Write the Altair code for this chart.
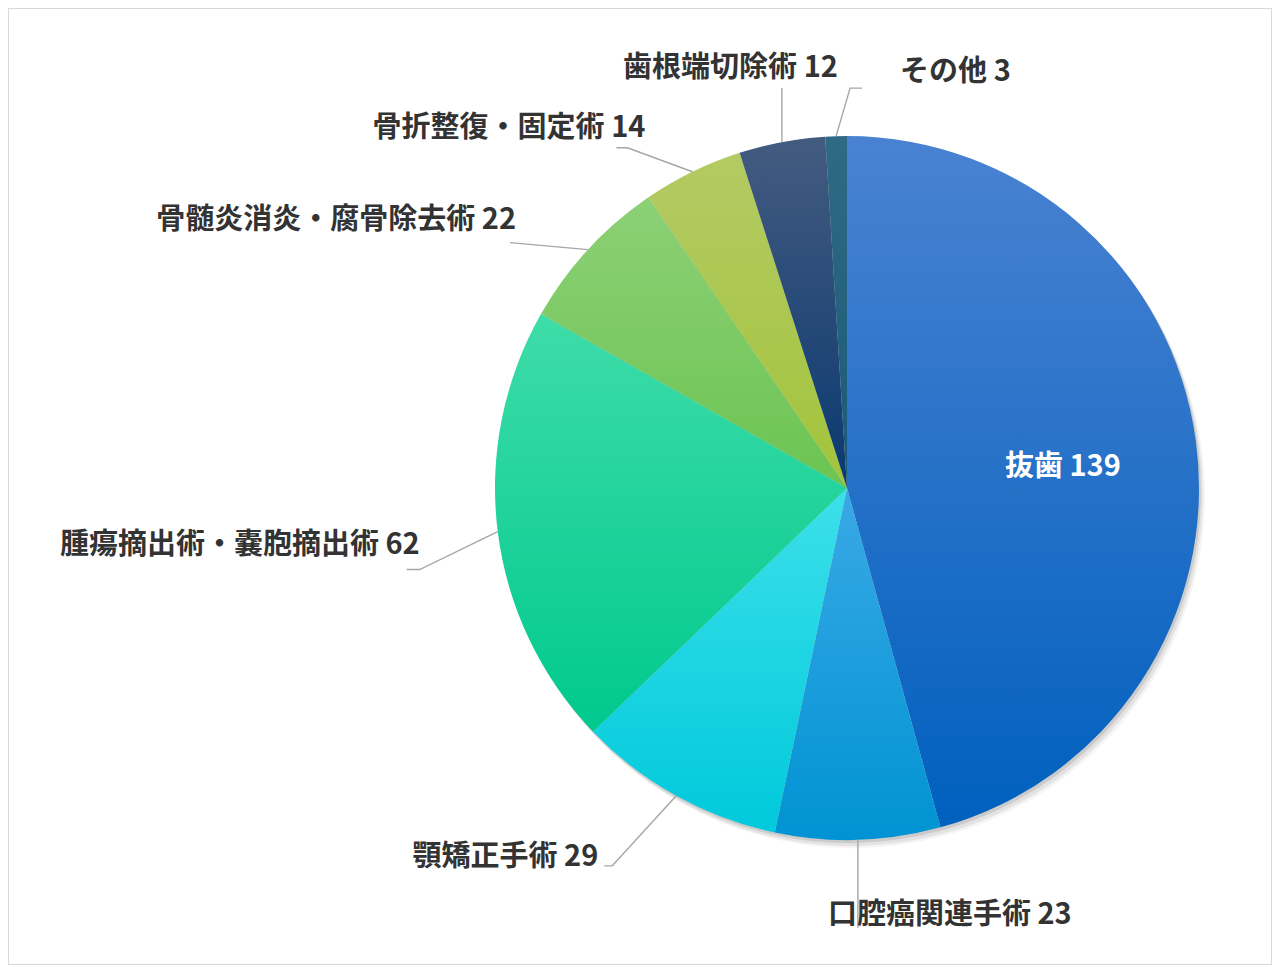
import math
import altair as alt
import pandas as pd

# ---- data ----
categories = ["抜歯", "口腔癌関連手術", "顎矯正手術", "腫瘍摘出術・嚢胞摘出術",
              "骨髄炎消炎・腐骨除去術", "骨折整復・固定術", "歯根端切除術", "その他"]
values = [139, 23, 29, 62, 22, 14, 12, 3]

# ---- styles ----
top_colors = ["#4a82d2", "#3aa9e6", "#3ce0ea", "#3edca8", "#8dd076", "#b4ca64", "#445b80", "#2f6a84"]
bottom_colors = ["#0060be", "#0093d3", "#00c9db", "#00c98d", "#6bc452", "#a2c43b", "#0a3970", "#1a5a78"]

W, H = 1264, 957
CX, CY, R = 839, 480, 352
FONT = "Noto Sans CJK JP"

# label layout: offset of text anchor from slice edge midpoint, alignment, leader line offsets
label_layout = [
    ((-133, 26), "center", []),
    ((-30, 75), "left", [(0, 0), (0, 88)]),
    ((-78, 61), "right", [(0, 0), (-64, 70), (-72, 70)]),
    ((-78, 13), "right", [(0, 0), (-78, 38), (-91, 38)]),
    ((-72, -30), "right", [(0, 0), (-78, -7)]),
    ((-47, -44), "right", [(0, 0), (-65, -24), (-76, -24)]),
    ((56, -74), "right", [(0, 0), (0, -54)]),
    ((64, -64), "left", [(0, 0), (14, -48), (26, -48)]),
]

total = sum(values)
df = pd.DataFrame({"idx": list(range(len(categories))), "cat": categories, "value": values})

# edge midpoints derived from the values
edges = []
cum = 0
for v in values:
    mid = (cum + v / 2) / total * 2 * math.pi
    edges.append((CX + R * math.sin(mid), CY - R * math.cos(mid)))
    cum += v

text_rows, line_rows = [], []
for i, (cat, v) in enumerate(zip(categories, values)):
    (tdx, tdy), align, pts = label_layout[i]
    ex, ey = edges[i]
    text_rows.append({"label": f"{cat} {v}", "x": ex + tdx, "y": ey + tdy,
                      "align": align, "inside": i == 0})
    for k, (dx, dy) in enumerate(pts):
        line_rows.append({"cat": cat, "k": k, "x": ex + dx, "y": ey + dy})

tdf = pd.DataFrame(text_rows)
ldf = pd.DataFrame(line_rows)

theta_scale = alt.Scale(domain=[0, total], range=[0, 2 * math.pi])

base = alt.Chart(df).transform_window(
    cum="sum(value)", sort=[alt.SortField("idx", order="ascending")]
).transform_calculate(start="datum.cum - datum.value")

layers = []
# soft shadow
for dx, dy, op in [(2, 3, 0.10), (4, 6, 0.07), (6, 8, 0.04)]:
    layers.append(
        base.mark_arc(radius=R, color="#000000", opacity=op).encode(
            theta=alt.Theta("start:Q", scale=theta_scale),
            theta2="cum:Q",
            x=alt.value(CX + dx), y=alt.value(CY + dy),
        )
    )

for i, cat in enumerate(categories):
    grad = alt.LinearGradient(
        gradient="linear",
        stops=[alt.GradientStop(offset=0, color=top_colors[i]),
               alt.GradientStop(offset=1, color=bottom_colors[i])],
        x1=0, x2=0, y1=0, y2=1,
    )
    layers.append(
        base.transform_filter(alt.datum.cat == cat).mark_arc(radius=R, fill=grad).encode(
            theta=alt.Theta("start:Q", scale=theta_scale),
            theta2="cum:Q",
            x=alt.value(CX), y=alt.value(CY),
        )
    )

lines = alt.Chart(ldf).mark_line(color="#a6a6a6", strokeWidth=1.4).encode(
    x=alt.X("x:Q", scale=None), y=alt.Y("y:Q", scale=None),
    detail="cat:N", order="k:Q",
)
layers.append(lines)

for align in ["left", "right", "center"]:
    sub = tdf[tdf["align"] == align]
    if len(sub) == 0:
        continue
    color = "#ffffff" if align == "center" else "#333333"
    layers.append(
        alt.Chart(sub).mark_text(align=align, baseline="middle", font=FONT,
                                 fontSize=29, fontWeight="bold", color=color).encode(
            x=alt.X("x:Q", scale=None), y=alt.Y("y:Q", scale=None), text="label:N",
        )
    )

chart = alt.layer(*layers).properties(
    width=W, height=H, autosize=alt.AutoSizeParams(type="none"), padding=0,
    background="#ffffff",
).configure_view(stroke="#d9d9d9", strokeWidth=2)

chart.save("out.html", embed_options={"renderer": "svg", "actions": False})
